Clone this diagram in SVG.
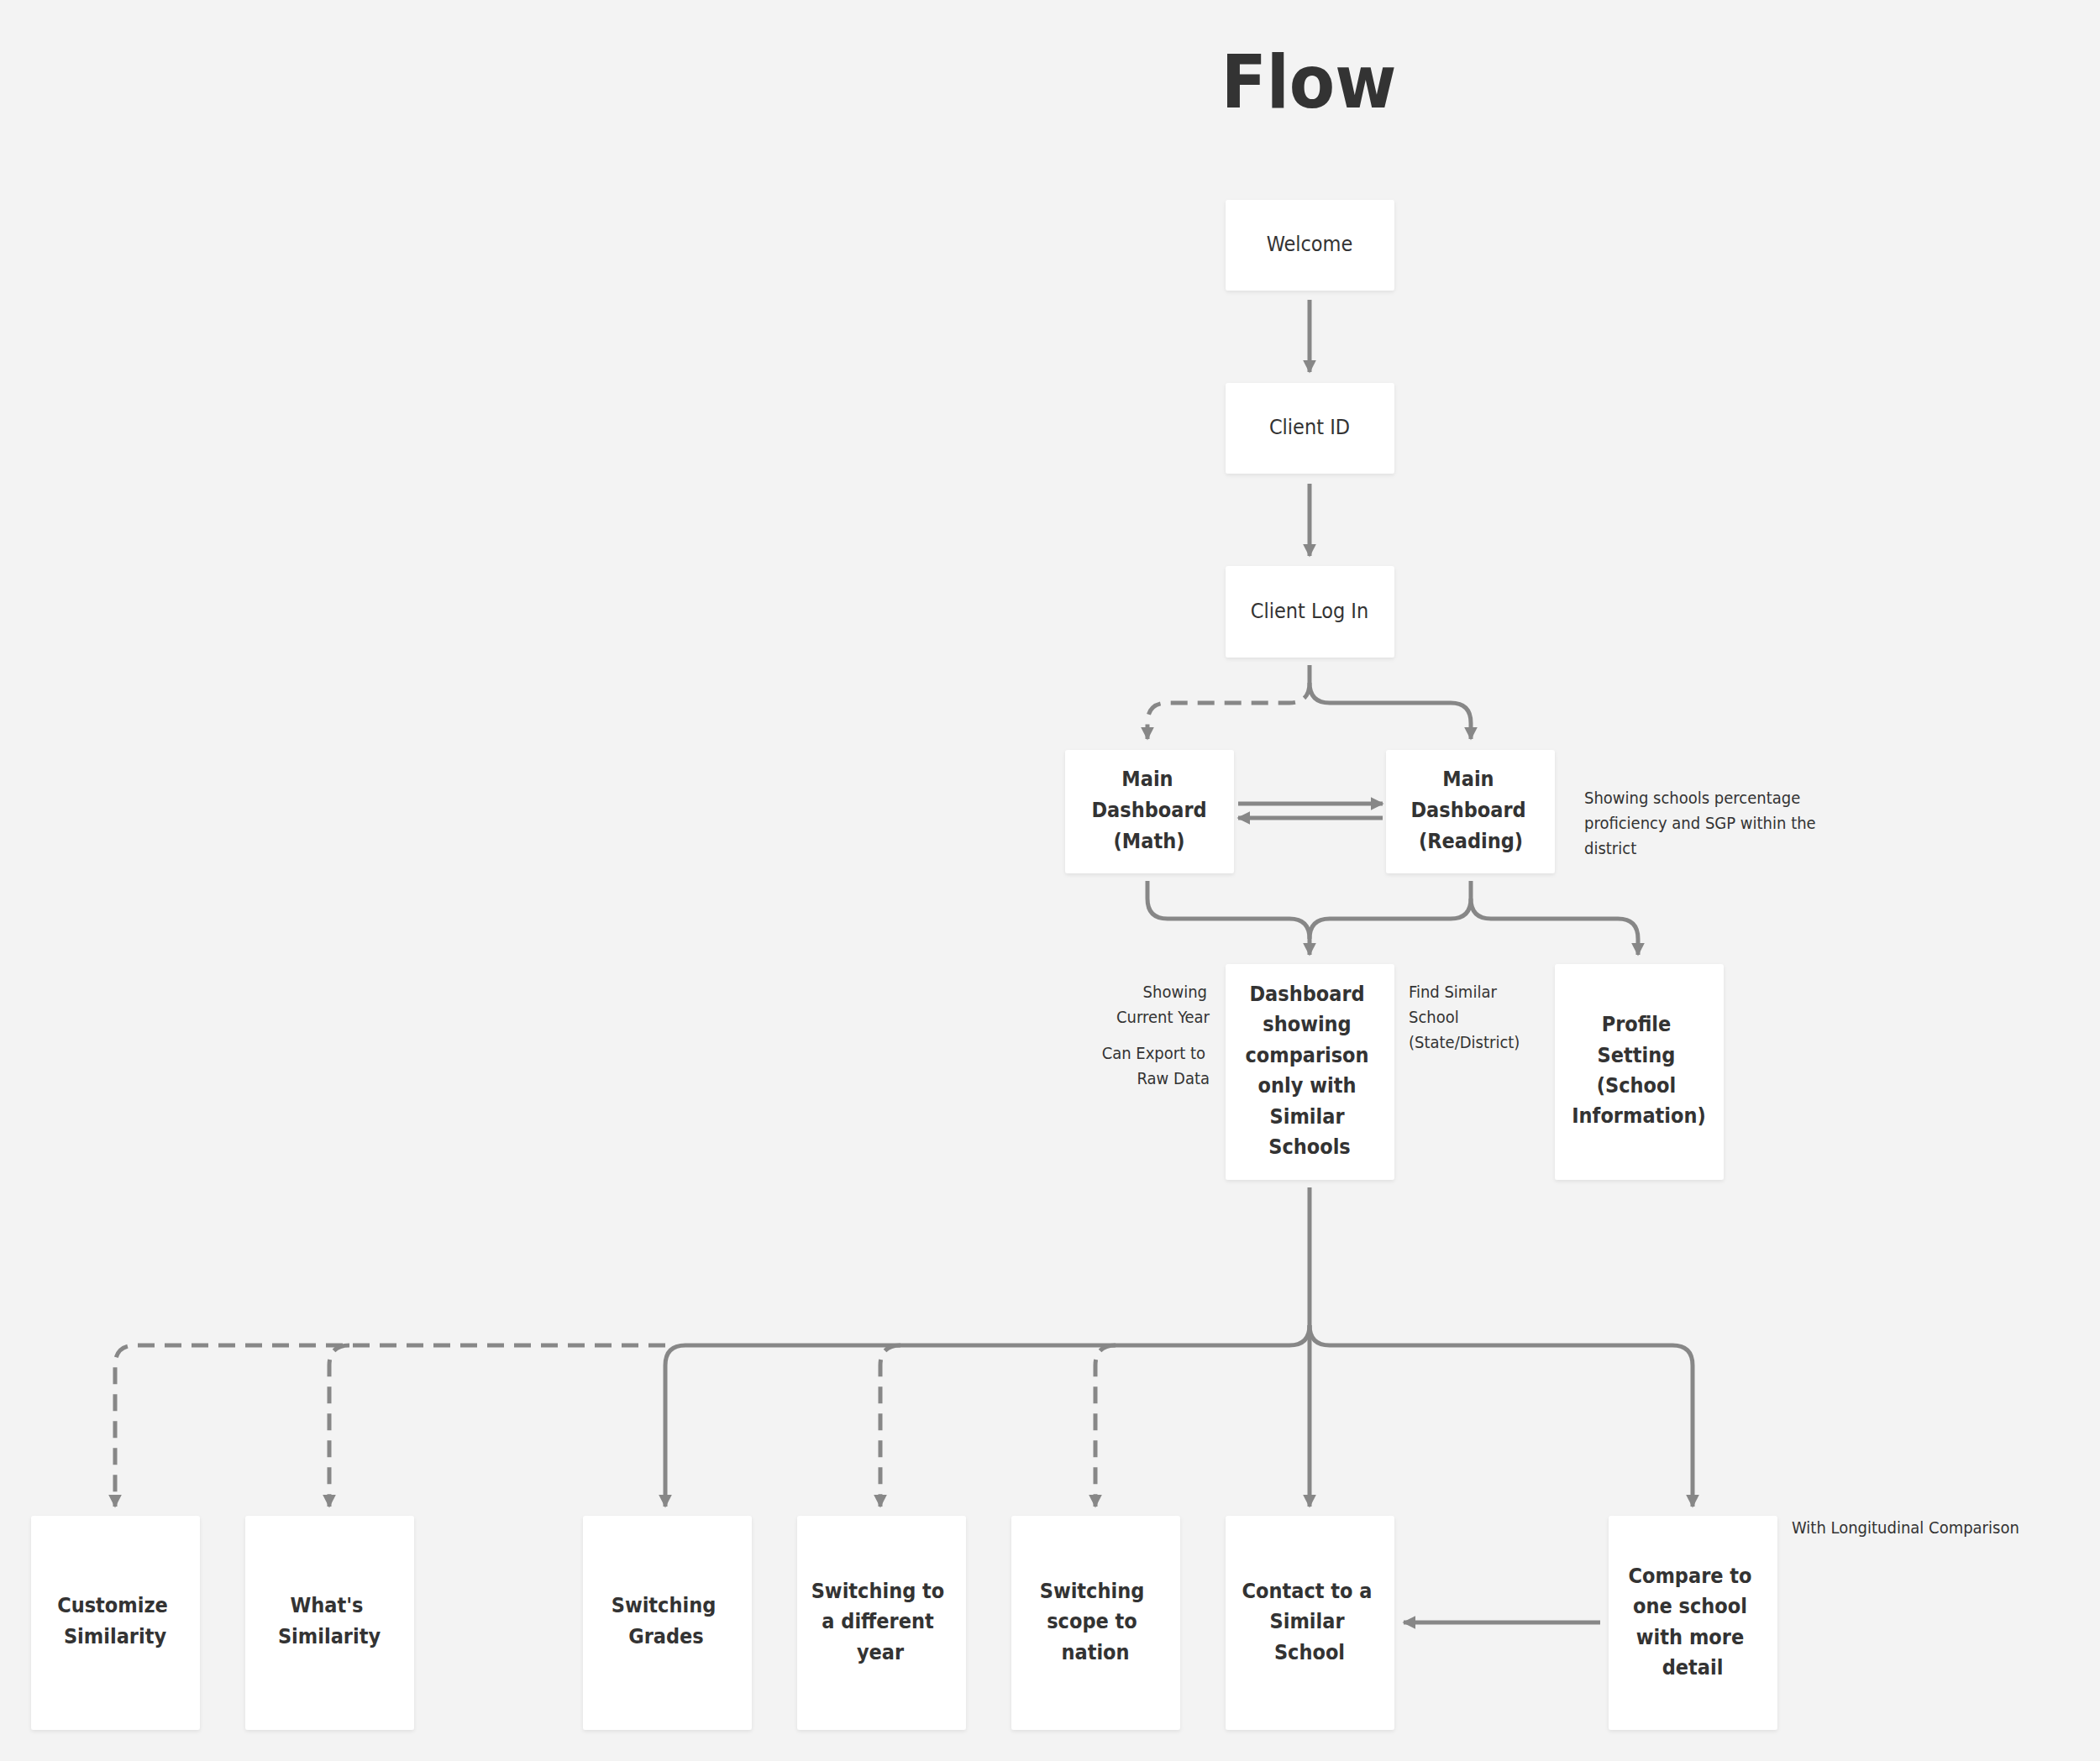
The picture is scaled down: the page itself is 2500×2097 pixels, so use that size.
<svg xmlns="http://www.w3.org/2000/svg" width="2500" height="2097" viewBox="0 0 2500 2097">
<defs>
<marker id="ah" viewBox="0 0 10 10" refX="9" refY="5" markerWidth="16" markerHeight="16" markerUnits="userSpaceOnUse" orient="auto"><path d="M0,0 L10,5 L0,10 z" fill="#878787"/></marker>
<filter id="sh" x="-10%" y="-10%" width="120%" height="120%"><feDropShadow dx="0" dy="2" stdDeviation="2" flood-color="#000" flood-opacity="0.08"/></filter>
</defs>
<style>
text{font-family:"DejaVu Sans Condensed","DejaVu Sans","Liberation Sans",sans-serif;fill:#333}
.box{fill:#fff;filter:url(#sh)}
.n{font-size:25px;text-anchor:middle;dominant-baseline:middle}
.b{font-weight:bold}
.a{font-size:20px;dominant-baseline:middle}
.c{fill:none;stroke:#878787;stroke-width:5;marker-end:url(#ah)}
.d{stroke-dasharray:20 12}
.nm{marker-end:none}
</style>
<rect width="2500" height="2097" fill="#f3f3f3"/>
<text x="1558" y="128" font-size="88" font-weight="bold" text-anchor="middle">Flow</text>
<g id="connectors">
<path class="c" d="M1559 357 V443"/>
<path class="c" d="M1559 576 V662"/>
<path class="c" d="M1559 792 V813 Q1559 837 1583 837 H1727 Q1751 837 1751 861 V880"/>
<path class="c d" d="M1559 813 Q1559 837 1535 837 H1390 Q1366 837 1366 861 V880"/>
<path class="c" d="M1474 957 H1646"/>
<path class="c" d="M1646 974 H1474"/>
<path class="c" d="M1366 1049 V1070 Q1366 1094 1390 1094 H1535 Q1559 1094 1559 1118 V1137"/>
<path class="c nm" d="M1751 1049 V1070 Q1751 1094 1727 1094 H1583 Q1559 1094 1559 1118"/>
<path class="c" d="M1751 1070 Q1751 1094 1775 1094 H1926 Q1950 1094 1950 1118 V1137"/>
<path class="c" d="M1559 1414 V1578 Q1559 1602 1535 1602 H816 Q792 1602 792 1626 V1794"/>
<path class="c" d="M1559 1578 Q1559 1602 1583 1602 H1991 Q2015 1602 2015 1626 V1794"/>
<path class="c" d="M1559 1578 V1794"/>
<path class="c d" d="M792 1602 H161 Q137 1602 137 1626 V1794"/>
<path class="c d" d="M416 1602 Q392 1602 392 1626 V1794"/>
<path class="c d" d="M1072 1602 Q1048 1602 1048 1626 V1794"/>
<path class="c d" d="M1328 1602 Q1304 1602 1304 1626 V1794"/>
<path class="c" d="M1905 1932 H1671"/>
</g>
<g id="welcome"><rect class="box" x="1459" y="238" width="201" height="108" rx="3"/><text class="n" x="1559" y="292">Welcome</text></g>
<g id="clientid"><rect class="box" x="1459" y="456" width="201" height="108" rx="3"/><text class="n" x="1559" y="510">Client ID</text></g>
<g id="login"><rect class="box" x="1459" y="674" width="201" height="109" rx="3"/><text class="n" x="1559" y="729">Client Log In</text></g>
<g id="math"><rect class="box" x="1268" y="893" width="201" height="147" rx="3"/><text class="n b" x="1366"><tspan x="1366" y="929">Main</tspan><tspan x="1368" y="966">Dashboard</tspan><tspan x="1368" y="1003">(Math)</tspan></text></g>
<g id="reading"><rect class="box" x="1650" y="893" width="201" height="147" rx="3"/><text class="n b"><tspan x="1748" y="929">Main</tspan><tspan x="1748" y="966">Dashboard</tspan><tspan x="1751" y="1003">(Reading)</tspan></text></g>
<g id="dash"><rect class="box" x="1459" y="1148" width="201" height="257" rx="3"/><text class="n b"><tspan x="1556" y="1185">Dashboard</tspan><tspan x="1556" y="1221">showing</tspan><tspan x="1556" y="1258">comparison</tspan><tspan x="1556" y="1294">only with</tspan><tspan x="1556" y="1331">Similar</tspan><tspan x="1559" y="1367">Schools</tspan></text></g>
<g id="profile"><rect class="box" x="1851" y="1148" width="201" height="257" rx="3"/><text class="n b"><tspan x="1948" y="1221">Profile</tspan><tspan x="1948" y="1258">Setting</tspan><tspan x="1948" y="1294">(School</tspan><tspan x="1951" y="1330">Information)</tspan></text></g>
<g id="customize"><rect class="box" x="37" y="1805" width="201" height="255" rx="3"/><text class="n b"><tspan x="134" y="1913">Customize</tspan><tspan x="137" y="1950">Similarity</tspan></text></g>
<g id="whats"><rect class="box" x="292" y="1805" width="201" height="255" rx="3"/><text class="n b"><tspan x="389" y="1913">What's</tspan><tspan x="392" y="1950">Similarity</tspan></text></g>
<g id="grades"><rect class="box" x="694" y="1805" width="201" height="255" rx="3"/><text class="n b"><tspan x="790" y="1913">Switching</tspan><tspan x="793" y="1950">Grades</tspan></text></g>
<g id="year"><rect class="box" x="949" y="1805" width="201" height="255" rx="3"/><text class="n b"><tspan x="1045" y="1896">Switching to</tspan><tspan x="1045" y="1932">a different</tspan><tspan x="1048" y="1969">year</tspan></text></g>
<g id="nation"><rect class="box" x="1204" y="1805" width="201" height="255" rx="3"/><text class="n b"><tspan x="1300" y="1896">Switching</tspan><tspan x="1300" y="1932">scope to</tspan><tspan x="1304" y="1969">nation</tspan></text></g>
<g id="contact"><rect class="box" x="1459" y="1805" width="201" height="255" rx="3"/><text class="n b"><tspan x="1556" y="1896">Contact to a</tspan><tspan x="1556" y="1932">Similar</tspan><tspan x="1559" y="1969">School</tspan></text></g>
<g id="compare"><rect class="box" x="1915" y="1805" width="201" height="255" rx="3"/><text class="n b"><tspan x="2012" y="1878">Compare to</tspan><tspan x="2012" y="1914">one school</tspan><tspan x="2012" y="1951">with more</tspan><tspan x="2015" y="1987">detail</tspan></text></g>
<g id="notes">
<text class="a"><tspan x="1886" y="951">Showing schools percentage</tspan><tspan x="1886" y="981">proficiency and SGP within the</tspan><tspan x="1886" y="1011">district</tspan></text>
<text class="a" text-anchor="end"><tspan x="1437" y="1182">Showing</tspan><tspan x="1440" y="1212">Current Year</tspan></text>
<text class="a" text-anchor="end"><tspan x="1435" y="1255">Can Export to</tspan><tspan x="1440" y="1285">Raw Data</tspan></text>
<text class="a"><tspan x="1677" y="1182">Find Similar</tspan><tspan x="1677" y="1212">School</tspan><tspan x="1677" y="1242">(State/District)</tspan></text>
<text class="a" x="2133" y="1820">With Longitudinal Comparison</text>
</g>
</svg>
